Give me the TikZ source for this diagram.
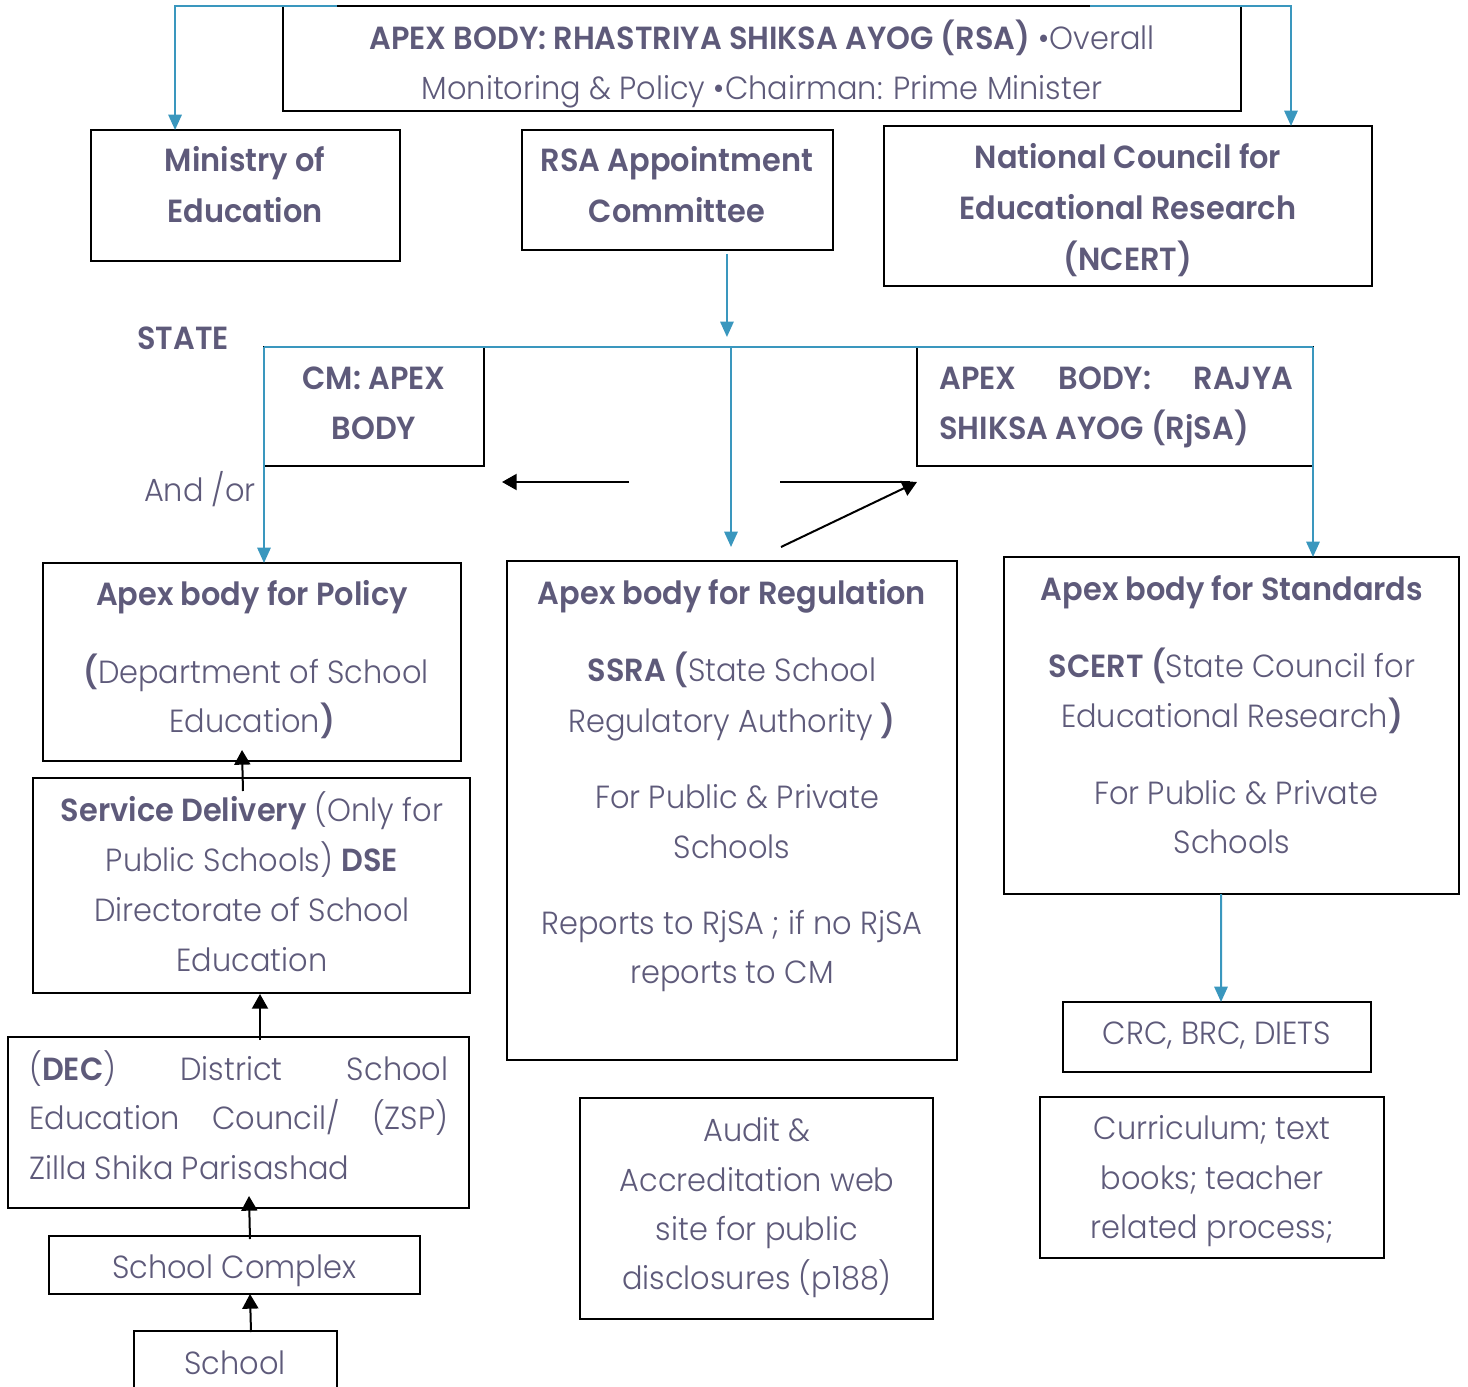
\documentclass[tikz,border=0pt]{standalone}
\usepackage{fontspec}
\setmainfont{Poppins}[UprightFont=* Light, BoldFont=* SemiBold, FakeStretch=0.95]
\usetikzlibrary{arrows.meta,calc,fit}
\definecolor{tc}{RGB}{94,90,122}
\definecolor{bl}{RGB}{58,151,190}
\newdimen\px \px=0.75pt
\newcommand\TL[5][base]{\node[txt,anchor=#1] (#2) at (#3,#4+11.3) {#5};}
\begin{document}
\begin{tikzpicture}[x=0.75pt,y=-0.75pt,
  box/.style={draw=black,line width=1.5pt,inner sep=0pt,outer sep=0pt},
  txt/.style={text=tc,inner sep=0pt,font=\fontsize{24}{30}\selectfont},
  bline/.style={draw=bl,line width=1.5pt},
  barr/.style={bline,-{Triangle[length=11.5pt,width=10pt]}},
  karr/.style={draw=black,line width=1.5pt,-{Triangle[length=11pt,width=12pt]}}]
\useasboundingbox (0,0) rectangle (1468,1387);
% boxes
\node[box,fit={(283,6)(1241,111)}] (rsa) {};
\node[box,fit={(91,130)(400,261)}] (min) {};
\node[box,fit={(522,130)(833,250)}] (app) {};
\node[box,fit={(884,126)(1372,286)}] (nce) {};
\node[box,fit={(264,347)(484,466)}] (cm) {};
\node[box,fit={(917,347)(1313,466)}] (rj) {};
\node[box,fit={(43,563)(461,761)}] (pol) {};
\node[box,fit={(33,778)(470,993)}] (srv) {};
\node[box,fit={(8,1037)(469,1208)}] (dec) {};
\node[box,fit={(49,1236)(420,1294)}] (cpx) {};
\node[box,fit={(134,1331)(337,1400)}] (sch) {};
\node[box,fit={(507,561)(957,1060)}] (reg) {};
\node[box,fit={(1004,557)(1459,894)}] (std) {};
\node[box,fit={(1063,1002)(1371,1072)}] (crc) {};
\node[box,fit={(580,1098)(933,1319)}] (aud) {};
\node[box,fit={(1040,1097)(1384,1258)}] (cur) {};
% texts
\TL{t1}{762}{38}{\textbf{APEX BODY: RHASTRIYA SHIKSA AYOG (RSA)} •Overall}
\TL{t2}{762}{88}{Monitoring \& Policy •Chairman: Prime Minister}
\TL{t3}{245}{160}{\textbf{Ministry of}}
\TL{t4}{245}{211}{\textbf{Education}}
\TL{t5}{677}{160}{\textbf{RSA Appointment}}
\TL{t6}{677}{211}{\textbf{Committee}}
\TL{t7}{1128}{157}{\textbf{National Council for}}
\TL{t8}{1128}{208}{\textbf{Educational Research}}
\TL{t9}{1128}{259}{\textbf{(NCERT)}}
\TL{t10}{183}{338}{\textbf{STATE}}
\TL{t11}{374}{378}{\textbf{CM: APEX}}
\TL{t12}{374}{428}{\textbf{BODY}}
\TL[base west]{t13}{939}{378}{\makebox[354\px][s]{\textbf{APEX BODY: RAJYA}}}
\TL[base west]{t14}{939}{428}{\textbf{SHIKSA AYOG (RjSA)}}
\TL{t15}{200}{490}{And /or}
\TL{t16}{252}{594}{\textbf{Apex body for Policy}}
\TL{t17}{256}{672}{\textbf{(}Department of School}
\TL{t18}{252}{721}{Education\textbf{)}}
\TL{t19}{252}{810}{\textbf{Service Delivery} (Only for}
\TL{t20}{252}{860}{Public Schools) \textbf{DSE}}
\TL{t21}{252}{910}{Directorate of School}
\TL{t22}{252}{960}{Education}
\TL[base west]{t23}{29}{1069}{\makebox[419\px][s]{(\textbf{DEC}) District School}}
\TL[base west]{t24}{29}{1118}{\makebox[419\px][s]{Education Council/ (ZSP)}}
\TL[base west]{t25}{29}{1168}{Zilla Shika Parisashad}
\TL{t26}{234}{1267}{School Complex}
\TL{t27}{235}{1363}{School}
\TL{t28}{732}{593}{\textbf{Apex body for Regulation}}
\TL{t29}{732}{670}{\textbf{SSRA (}State School}
\TL{t30}{732}{721}{Regulatory Authority \textbf{)}}
\TL{t31}{737}{797}{For Public \& Private}
\TL{t32}{732}{847}{Schools}
\TL{t33}{732}{923}{Reports to RjSA ; if no RjSA}
\TL{t34}{732}{972}{reports to CM}
\TL{t35}{1232}{589}{\textbf{Apex body for Standards}}
\TL{t36}{1232}{666}{\textbf{SCERT (}State Council for}
\TL{t37}{1232}{716}{Educational Research\textbf{)}}
\TL{t38}{1236}{793}{For Public \& Private}
\TL{t39}{1232}{842}{Schools}
\TL{t40}{1217}{1033}{CRC, BRC, DIETS}
\TL{t41}{757}{1130}{Audit \&}
\TL{t42}{757}{1180}{Accreditation web}
\TL{t43}{757}{1229}{site for public}
\TL{t44}{757}{1278}{disclosures (p188)}
\TL{t45}{1212}{1128}{Curriculum; text}
\TL{t46}{1212}{1178}{books; teacher}
\TL{t47}{1212}{1227}{related process;}
% blue connectors
\draw[barr] ($(rsa.north west)+(54,0)$) -| ($(min.north west)!0.272!(min.north east)$);
\draw[barr] ($(rsa.north east)+(-151,0)$) -| ($(nce.north west)!0.834!(nce.north east)$);
\draw[barr] ($(app.south west)!0.659!(app.south east)+(0,4)$) -- ++(0,83);
\draw[bline] (cm.north west) -- (rj.north east);
\draw[barr] (cm.north west) -- (cm.north west |- pol.north);
\coordinate (mtop) at (731,347);
\coordinate (mbot) at (731,547);
\draw[barr] (mtop) -- (mbot);
\draw[barr] (rj.north east) -- (rj.north east |- std.north);
\draw[barr] ($(std.south west)!0.477!(std.south east)$) -- ($(crc.north west)!0.513!(crc.north east)$);
% black arrows
\coordinate (la) at (629,482);
\coordinate (lb) at (502,482);
\coordinate (ra) at (780,482);
\coordinate (rb) at (910,482);
\coordinate (da) at (781,547);
\coordinate (db) at (917,482);
\draw[karr] (la) -- (lb);
\draw[draw=black,line width=1.5pt] (ra) -- (rb);
\draw[karr] (da) -- (db);
\draw[karr] ($(srv.north west)+(210,13)$) -- ($(pol.south west)+(199,-11)$);
\draw[karr] ($(dec.north west)+(252,3)$) -- ($(srv.south west)+(227,1)$);
\draw[karr] ($(cpx.north west)+(201,3)$) -- ($(dec.south west)+(241,-12)$);
\draw[karr] ($(sch.north west)+(117,1)$) -- ($(cpx.south west)+(201,0)$);
\end{tikzpicture}
\end{document}
